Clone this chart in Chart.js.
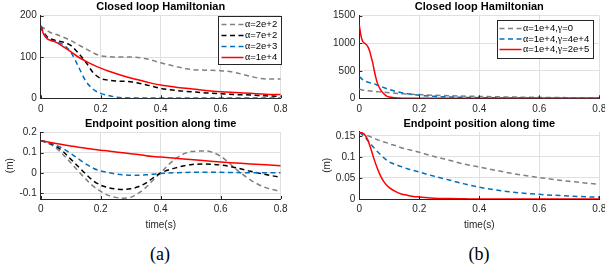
<!DOCTYPE html>
<html>
<head>
<meta charset="utf-8">
<script src="https://cdn.jsdelivr.net/npm/chart.js@4.4.1/dist/chart.umd.min.js"></script>
<style>
  body { margin: 0; background: #fff; width: 605px; height: 274px; overflow: hidden; position: relative; }
  canvas { position: absolute; }
  .cap { position: absolute; font-family: "Liberation Serif", "DejaVu Serif", serif; font-size: 18px; color: #000;
         transform: translate(-50%, -50%); white-space: nowrap; }
</style>
</head>
<body>
<canvas id="ha" width="300" height="116" style="left:0px;top:0px"></canvas>
<canvas id="pa" width="300" height="124" style="left:0px;top:116px"></canvas>
<canvas id="hb" width="305" height="116" style="left:300px;top:0px"></canvas>
<canvas id="pb" width="305" height="124" style="left:300px;top:116px"></canvas>
<div class="cap" style="left:160px;top:254px">(a)</div>
<div class="cap" style="left:479px;top:254px">(b)</div>
<script>
// ---- data ----
const labelsA = ["α=2e+2", "α=7e+2", "α=2e+3", "α=1e+4"];
const labelsB = ["α=1e+4,γ=0", "α=1e+4,γ=4e+4", "α=1e+4,γ=2e+5"];
const xTicks = [0, 0.2, 0.4, 0.6, 0.8];
const yTicksHamA = [0, 100, 200];
const yTicksPosA = [-0.1, 0, 0.1, 0.2];
const yTicksHamB = [0, 500, 1000, 1500];
const yTicksPosB = [0, 0.05, 0.1, 0.15];

// (a) closed loop Hamiltonian
const tHamA = [0, 0.01, 0.02, 0.03, 0.05, 0.075, 0.1, 0.125, 0.15, 0.175, 0.2, 0.225, 0.25, 0.3, 0.35, 0.4, 0.45, 0.5, 0.55, 0.6, 0.65, 0.7, 0.75, 0.8];
const hamA200   = [175, 170, 165, 160, 155, 148, 140, 130, 120, 110, 103, 101, 100, 100, 96, 86, 77, 70, 68, 67, 62, 53, 47, 47];
const hamA700   = [175, 160, 150, 145, 140, 136, 128, 110, 88, 62, 48, 44, 42, 40, 33, 24, 19, 16, 13, 11, 9, 8, 6, 5];
const hamA2000  = [175, 158, 148, 142, 137, 130, 112, 78, 42, 22, 12, 7, 3, 1, 1, 1, 1, 1, 1, 1, 1, 1, 1, 1];
const hamA10000 = [175, 155, 145, 141, 136, 125, 113, 100, 90, 81, 73, 66, 60, 49, 40, 32, 27, 23, 19, 16, 14, 12, 10, 9];

// (a) endpoint position
const tPosA = [0, 0.025, 0.05, 0.075, 0.1, 0.125, 0.15, 0.175, 0.2, 0.225, 0.25, 0.275, 0.3, 0.325, 0.35, 0.375, 0.4, 0.45, 0.5, 0.55, 0.6, 0.65, 0.7, 0.75, 0.8];
const posA200   = [0.159, 0.145, 0.125, 0.09, 0.05, 0.01, -0.03, -0.065, -0.09, -0.11, -0.12, -0.124, -0.12, -0.1, -0.072, -0.035, 0.002, 0.07, 0.105, 0.108, 0.082, 0.02, -0.035, -0.072, -0.09];
const posA700   = [0.159, 0.148, 0.132, 0.105, 0.068, 0.032, -0.005, -0.038, -0.06, -0.072, -0.079, -0.081, -0.078, -0.068, -0.05, -0.024, 0.0, 0.025, 0.041, 0.044, 0.039, 0.026, 0.008, -0.008, -0.021];
const posA2000  = [0.159, 0.15, 0.137, 0.12, 0.096, 0.07, 0.045, 0.023, 0.01, 0.002, -0.005, -0.009, -0.011, -0.011, -0.009, -0.006, -0.003, 0.001, 0.003, 0.003, 0.003, 0.002, 0.001, 0.001, 0.001];
const posA10000 = [0.159, 0.152, 0.145, 0.139, 0.133, 0.127, 0.122, 0.117, 0.112, 0.108, 0.103, 0.099, 0.095, 0.091, 0.085, 0.081, 0.078, 0.072, 0.066, 0.06, 0.054, 0.049, 0.044, 0.04, 0.036];

// (b) closed loop Hamiltonian
const tHamB = [0, 0.005, 0.01, 0.015, 0.02, 0.025, 0.03, 0.035, 0.04, 0.045, 0.05, 0.055, 0.06, 0.07, 0.08, 0.09, 0.1, 0.12, 0.14, 0.16, 0.2, 0.25, 0.3, 0.4, 0.5, 0.6, 0.7, 0.8];
const hamBg0   = [165, 158, 152, 147, 143, 140, 137, 134, 131, 128, 125, 122, 120, 115, 110, 105, 100, 92, 85, 78, 67, 56, 47, 34, 24, 17, 12, 8];
const hamBg4e4 = [395, 370, 345, 325, 310, 300, 290, 282, 276, 270, 262, 252, 240, 218, 198, 178, 160, 128, 102, 82, 55, 36, 24, 12, 6, 3, 2, 1];
const hamBg2e5 = [1330, 1150, 1050, 1010, 990, 965, 920, 850, 740, 640, 500, 380, 280, 160, 91, 45, 22, 8, 3, 1, 0, 0, 0, 0, 0, 0, 0, 0];

// (b) endpoint position
const tPosB = [0, 0.01, 0.02, 0.03, 0.04, 0.05, 0.06, 0.07, 0.08, 0.09, 0.1, 0.12, 0.14, 0.16, 0.18, 0.2, 0.25, 0.3, 0.35, 0.4, 0.5, 0.6, 0.7, 0.8];
const posBg0   = [0.158, 0.156, 0.153, 0.15, 0.147, 0.144, 0.141, 0.139, 0.136, 0.134, 0.131, 0.127, 0.122, 0.118, 0.115, 0.111, 0.101, 0.092, 0.083, 0.076, 0.062, 0.051, 0.042, 0.035];
const posBg4e4 = [0.158, 0.153, 0.146, 0.138, 0.129, 0.121, 0.113, 0.106, 0.099, 0.093, 0.088, 0.082, 0.077, 0.072, 0.068, 0.064, 0.054, 0.045, 0.036, 0.028, 0.017, 0.011, 0.007, 0.004];
const posBg2e5 = [0.159, 0.157, 0.151, 0.137, 0.116, 0.093, 0.073, 0.056, 0.043, 0.034, 0.027, 0.018, 0.012, 0.009, 0.006, 0.005, 0.002, 0.001, 0.0005, 0, 0, 0, 0, 0];

// ---- styles ----
const GRAY = "#808080", BLACK = "#000000", BLUE = "#0072bd", RED = "#ff0000";
const DASH = [5, 3.5];
const stylesA = [{c: GRAY, d: DASH}, {c: BLACK, d: DASH}, {c: BLUE, d: DASH}, {c: RED, d: []}];
const stylesB = [{c: GRAY, d: DASH}, {c: BLUE, d: DASH}, {c: RED, d: []}];
const AXIS = "#262626", GRID = "#e0e0e0";

Chart.defaults.font.family = "'Liberation Sans', Arial, sans-serif";
Chart.defaults.color = AXIS;

// MATLAB-like inward tick marks
const innerTicks = {
  id: "innerTicks",
  afterDraw(chart) {
    const {ctx, chartArea: a, scales} = chart;
    ctx.save();
    ctx.strokeStyle = AXIS;
    ctx.lineWidth = 1;
    ctx.beginPath();
    scales.x.ticks.forEach(t => {
      const p = Math.round(scales.x.getPixelForValue(t.value)) + 0.5;
      ctx.moveTo(p, a.bottom); ctx.lineTo(p, a.bottom - 3);
    });
    scales.y.ticks.forEach(t => {
      const p = Math.round(scales.y.getPixelForValue(t.value)) + 0.5;
      ctx.moveTo(a.left, p); ctx.lineTo(a.left + 3, p);
    });
    ctx.stroke();
    ctx.restore();
  }
};

// boxed legend inside the plot, top right
const boxLegend = {
  id: "boxLegend",
  afterDatasetsDraw(chart, args, o) {
    if (!o.show) return;
    const {ctx, chartArea: a} = chart;
    const left = Math.round(a.right - o.right - o.width), top = Math.round(a.top + o.top);
    ctx.save();
    ctx.fillStyle = "#fff";
    ctx.fillRect(left, top, o.width, o.height);
    ctx.strokeStyle = AXIS;
    ctx.lineWidth = 1;
    ctx.strokeRect(left + 0.5, top + 0.5, o.width, o.height);
    chart.data.datasets.forEach((ds, i) => {
      const yy = top + o.first + i * o.gap;
      ctx.strokeStyle = ds.borderColor;
      ctx.lineWidth = ds.borderWidth;
      ctx.setLineDash(ds.borderDash);
      ctx.beginPath();
      ctx.moveTo(left + o.lineStart, yy);
      ctx.lineTo(left + o.lineStart + o.lineLen, yy);
      ctx.stroke();
      ctx.setLineDash([]);
      let xx = left + o.lineStart + o.lineLen + o.textGap;
      ctx.fillStyle = "#000";
      ctx.textBaseline = "middle";
      ds.label.split(/([α-ω])/).filter(s => s).forEach(s => {
        ctx.font = /[α-ω]/.test(s) ? "10px 'Liberation Serif'" : "9.5px 'Liberation Sans'";
        ctx.fillText(s, xx, yy);
        xx += ctx.measureText(s).width;
      });
    });
    ctx.restore();
  }
};

function makeChart(id, t, list, labels, styles, o) {
  return new Chart(document.getElementById(id), {
    type: "line",
    data: {
      datasets: list.map((v, i) => ({
        label: labels[i],
        data: t.map((x, j) => ({x: x, y: v[j]})),
        borderColor: styles[i].c,
        borderDash: styles[i].d,
        borderWidth: 1.5,
        pointRadius: 0,
        cubicInterpolationMode: "monotone",
        order: list.length - i
      }))
    },
    options: {
      responsive: false,
      animation: false,
      events: [],
      layout: {padding: o.pad},
      plugins: {
        legend: {display: false},
        tooltip: {enabled: false},
        title: {display: true, text: o.title, fullSize: false, color: "#000",
                font: {size: 11, weight: "bold"}, padding: o.titlePad},
        boxLegend: o.legend || {show: false}
      },
      scales: {
        x: {
          type: "linear", min: 0, max: 0.8,
          afterBuildTicks: s => { s.ticks = xTicks.map(v => ({value: v})); },
          afterFit: s => { s.height = o.xh; s.paddingLeft = 0; s.paddingRight = 0; },
          grid: {color: GRID, drawTicks: false},
          border: {color: AXIS, width: 1},
          ticks: {padding: 4.5, font: {size: 10}, maxRotation: 0, autoSkip: false, callback: v => String(v)},
          title: o.xTitle ? {display: true, text: "time(s)", font: {size: 10}, padding: {top: 0, bottom: o.xTitle}} : {display: false}
        },
        y: {
          type: "linear", min: o.ymin, max: o.ymax,
          afterBuildTicks: s => { s.ticks = o.yTicks.map(v => ({value: v})); },
          afterFit: s => { s.width = o.yw; s.paddingTop = 0; s.paddingBottom = 0; },
          grid: {color: GRID, drawTicks: false},
          border: {color: AXIS, width: 1},
          ticks: {padding: 4, font: {size: 10}, autoSkip: false, callback: v => String(v)},
          title: o.yTitle ? {display: true, text: "(m)", font: {size: 10}, padding: {top: o.yTitle, bottom: 0}} : {display: false}
        }
      }
    },
    plugins: [innerTicks, boxLegend]
  });
}

makeChart("ha", tHamA, [hamA200, hamA700, hamA2000, hamA10000], labelsA, stylesA, {
  title: "Closed loop Hamiltonian", titlePad: {top: 0.7, bottom: 1.8},
  pad: {left: 0, top: 0, right: 19.3, bottom: 3.7}, xh: 14, yw: 40.7,
  ymin: 0, ymax: 200, yTicks: yTicksHamA,
  legend: {show: true, right: 0, top: 0, width: 63, height: 48, first: 8.5, gap: 11, lineStart: 3.5, lineLen: 22, textGap: 1.5}
});
makeChart("pa", tPosA, [posA200, posA700, posA2000, posA10000], labelsA, stylesA, {
  title: "Endpoint position along time", titlePad: {top: 1.7, bottom: 1.4},
  pad: {left: 0, top: 0, right: 19.3, bottom: 0}, xh: 41, yw: 40.7,
  ymin: -0.128, ymax: 0.2, yTicks: yTicksPosA, xTitle: 9, yTitle: 4
});
makeChart("hb", tHamB, [hamBg0, hamBg4e4, hamBg2e5], labelsB, stylesB, {
  title: "Closed loop Hamiltonian", titlePad: {top: 0.7, bottom: 1.8},
  pad: {left: 0, top: 0, right: 5.7, bottom: 3.7}, xh: 14, yw: 59.3,
  ymin: 0, ymax: 1500, yTicks: yTicksHamB,
  legend: {show: true, right: 6, top: 4.3, width: 96, height: 38, first: 8.5, gap: 10.5, lineStart: 2.5, lineLen: 22, textGap: 1.5}
});
makeChart("pb", tPosB, [posBg0, posBg4e4, posBg2e5], labelsB, stylesB, {
  title: "Endpoint position along time", titlePad: {top: 1.7, bottom: 0.8},
  pad: {left: 0, top: 0, right: 5.7, bottom: 0}, xh: 41, yw: 59.3,
  ymin: 0, ymax: 0.16, yTicks: yTicksPosB, xTitle: 9, yTitle: 21.2
});
</script>
</body>
</html>
